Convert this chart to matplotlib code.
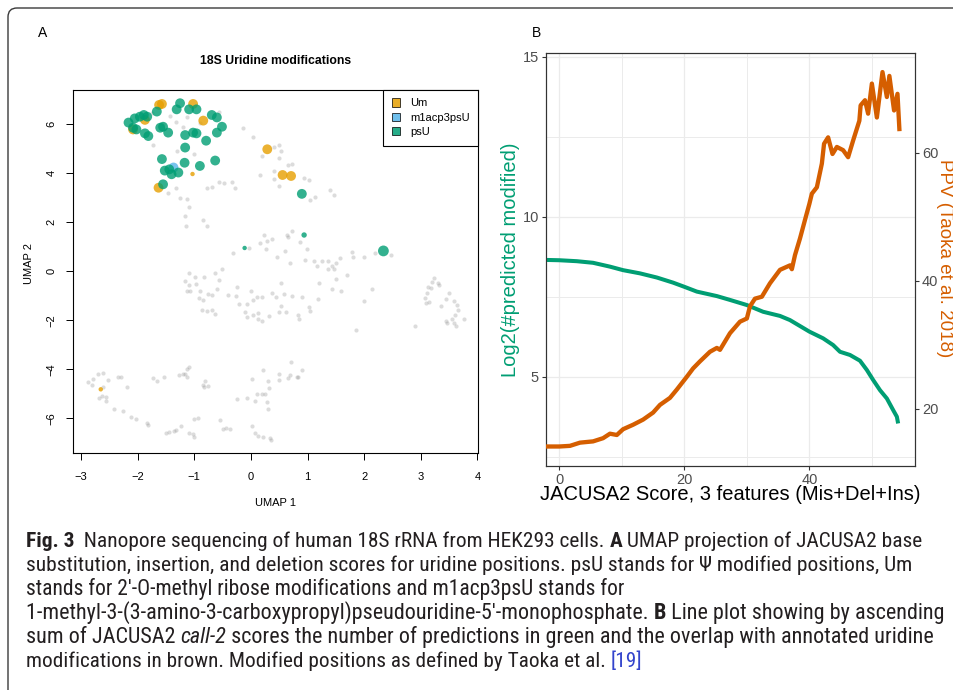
import os
import matplotlib
matplotlib.use('Agg')
import matplotlib.pyplot as plt
from matplotlib import font_manager
from matplotlib.font_manager import FontProperties
from matplotlib.patches import FancyBboxPatch, Patch
from matplotlib.transforms import IdentityTransform
from matplotlib.ticker import FixedLocator

# ---------------- data: panel A (UMAP) ----------------
bg_x = [-1.43, -1.32, -1.13, -0.57, -0.13, 0.03, 0.19, 0.41, 0.49, 0.53, 0.50, 0.66, 0.72, 0.41, 0.16,
        0.40, 0.93, 1.03, 0.50, 1.40, 1.46, 1.13, 1.05, -1.72, -1.32, -1.46, -1.25, -0.78, -0.69, -0.57,
        -0.47, -0.34, -0.28, -1.12, -1.10, -1.16, -0.85, -0.77, -1.15,
        0.23, 0.28, 0.38, 0.16, 0.63, 0.66, 0.72, 0.87, 0.99, 0.27, -0.32, -0.03, 2.19, 2.47, 1.99,
        1.78, 1.81, 1.58, 1.51, 1.43, 1.37, 1.25, 1.11, 1.16, 0.95, 0.69, 0.60, 0.46, 1.37, 1.46,
        1.69, 1.50, 1.21, 0.53, 0.37, 0.44, 0.58, 0.72, 0.90, 1.19, 1.43, 1.59, 1.99, 2.14,
        -1.09, -1.17, -1.10, -0.99, -0.96, -0.83, -0.63, -0.51, -0.56, -1.13, -1.07, -0.90, -0.76,
        -0.69, -0.59, -0.40, -0.25, -0.26, 0.00, 0.03, 0.10, 0.19, -0.07, -0.21, -0.10, 0.03, 0.12,
        -0.06, 0.13, 0.19, 0.32, 0.49, 0.62, 0.54, 0.84, 0.85, 1.03, 1.04, -0.92, -0.84, -0.86,
        -0.78, -0.69, -0.63, 1.86, 2.89,
        3.23, 3.30, 3.33, 3.20, 3.13, 3.18, 3.11, 3.08, 3.14, 3.10, 3.36, 3.45, 3.50, 3.58, 3.64,
        3.66, 3.61, 3.76, 3.55, 3.44, 3.46, 3.58, 3.63,
        -2.87, -2.79, -2.69, -2.61, -2.53, -2.80, -2.61, -2.68, -2.62, -2.56, -2.56, -2.42, -2.26,
        -2.34, -2.30, -2.19, -2.12, -2.02, -1.83, -1.82, -1.73, -1.65, -1.53, -1.49, -1.45, -1.35,
        -1.32, -1.23, -1.26, -1.20, -1.16, -1.12, -1.09, -1.12, -0.85, -0.81, -0.82, -0.75, -1.00,
        -0.94, -1.10, -1.03, -1.00, -0.54, -0.50, -0.44, -0.36, -0.25, -0.07, 0.02, 0.07, 0.10,
        0.19, 0.25, 0.22, 0.30, 0.32, 0.29, 0.30, 0.50, 0.50, 0.65, 0.69, 0.81, 0.84, 0.90, 0.70,
        0.02, 0.07, 0.13, 0.22, 0.33, 0.36,
        -1.75, -1.55, -1.20, -0.90, -1.30, -1.00]
bg_y = [6.34, 6.11, 6.28, 6.52, 5.84, 5.50, 4.71, 5.09, 5.16, 4.91, 4.61, 4.34, 4.37, 4.11, 3.93,
        3.77, 3.79, 3.73, 3.48, 3.32, 3.11, 3.05, 2.91, 5.16, 3.39, 3.21, 2.98, 3.39, 3.43, 3.66,
        3.62, 3.66, 3.39, 2.94, 2.64, 2.26, 2.09, 1.86, 1.86,
        1.46, 1.25, 1.31, 1.17, 1.48, 1.39, 1.65, 1.21, 0.91, 0.90, 0.73, 0.95, 0.73, 0.67, 0.60,
        0.80, 0.60, 0.53, 0.35, 0.23, 0.42, 0.42, 0.42, 0.22, 0.46, 0.33, 0.84, 0.57, 0.08, 0.08,
        -0.15, -0.33, -0.49, -0.49, -0.90, -1.04, -0.93, -1.01, -1.04, -1.12, -0.74, -0.80, -1.21, -0.74,
        -0.06, -0.40, -0.57, -0.25, -0.52, -0.22, -0.06, 0.08, -0.36, -0.80, -0.79, -0.82, -0.93,
        -0.95, -0.74, -0.98, -0.64, -0.99, -0.80, -1.17, -1.04, -1.04, -1.33, -1.35, -1.65, -1.78, -1.69,
        -1.85, -1.95, -2.03, -1.81, -1.65, -1.67, -1.42, -1.78, -1.93, -1.47, -1.63, -1.09, -1.19, -1.58,
        -1.61, -1.58, -1.76, -2.40, -2.23,
        -0.29, -0.46, -0.56, -0.42, -0.63, -0.70, -0.87, -1.10, -1.24, -1.28, -1.40, -1.14, -0.87, -1.20, -1.38,
        -1.58, -1.78, -1.95, -1.95, -2.02, -2.12, -2.12, -2.23,
        -4.53, -4.41, -4.18, -4.15, -4.46, -4.64, -4.74, -5.19, -5.08, -5.12, -5.28, -5.62, -5.69,
        -4.30, -4.30, -4.71, -5.97, -6.04, -6.21, -6.27, -4.34, -4.48, -4.33, -6.59, -6.56, -6.51,
        -6.48, -6.31, -4.25, -4.19, -4.21, -4.00, -3.89, -4.30, -4.64, -4.50, -4.71, -4.68, -6.04,
        -5.99, -6.61, -6.64, -6.75, -6.07, -6.45, -6.41, -6.45, -5.21, -5.19, -4.40, -5.29, -5.01,
        -5.01, -5.01, -4.03, -4.48, -4.78, -5.32, -5.62, -4.19, -4.44, -4.37, -4.23, -4.33, -4.33, -4.05, -3.69,
        -6.31, -6.61, -6.72, -6.78, -6.82, -6.89,
        6.45, 6.00, 5.90, 6.05, 4.90, 4.80]

um_x = [-1.62, -1.57, -1.02, -0.84, -1.87, -2.08, 0.29, 0.56, 0.71, -1.63, -1.03, -2.65]
um_y = [6.79, 6.83, 6.83, 6.15, 6.18, 5.79, 4.98, 3.93, 3.89, 3.41, 3.97, -4.82]
um_w = [1.0, 1.0, 1.0, 1.0, 1.0, 1.0, 1.0, 1.0, 1.0, 1.0, 0.45, 0.45]

m1_x = [-1.38]
m1_y = [4.24]
m1_w = [1.0]

psu_x = [-2.16, -2.05, -1.96, -1.89, -1.83, -2.08, -2.02, -1.87, -1.81, -1.66, -1.31, -1.25,
         -1.09, -0.96, -0.69, -0.60, -0.51, -0.60, -1.60, -1.55, -1.46, -1.16, -1.02, -0.96,
         -0.79, -1.16, -1.57, -1.17, -0.90, -0.63, -1.52, -1.44, -1.40, -1.28, -1.55, 0.90,
         -0.11, 0.94, 2.34]
psu_y = [6.07, 6.24, 6.31, 6.38, 6.31, 5.86, 5.79, 5.63, 5.52, 6.52, 6.61, 6.86,
         6.61, 6.61, 6.38, 6.28, 5.90, 5.66, 5.86, 5.90, 5.66, 5.56, 5.66, 5.63,
         5.33, 5.05, 4.58, 4.43, 4.30, 4.52, 4.11, 4.16, 3.96, 4.03, 3.55, 3.16,
         0.95, 1.48, 0.83]
psu_w = [1.0] * 36 + [0.45, 0.55, 1.1]

umap_xticks = [-3, -2, -1, 0, 1, 2, 3, 4]
umap_yticks = [-6, -4, -2, 0, 2, 4, 6]
legend_labels = ["Um", "m1acp3psU", "psU"]

# ---------------- data: panel B ----------------
score_n = [-2.2, 0, 2.8, 5.4, 8.1, 10.2, 12.9, 15.6, 18.2, 20.0, 22.0, 25.2, 27.3, 30.0, 32.6,
           35.3, 36.9, 40.0, 42.2, 43.8, 44.9, 46.5, 48.1, 49.2, 50.2, 51.3, 52.4, 53.4, 54.0, 54.2]
log2_pred = [8.65, 8.64, 8.61, 8.56, 8.44, 8.33, 8.23, 8.10, 7.94, 7.81, 7.66, 7.52, 7.40, 7.24, 7.03,
             6.90, 6.77, 6.41, 6.20, 5.99, 5.78, 5.68, 5.50, 5.21, 4.90, 4.58, 4.32, 3.96, 3.75, 3.54]

score_p = [-2.2, 0, 1.7, 3.3, 5.4, 7.0, 8.1, 9.2, 10.2, 11.8, 13.4, 15.0, 16.1, 17.7, 18.8,
           20.4, 21.4, 22.5, 24.1, 25.2, 25.7, 27.3, 28.9, 30.0, 30.5, 31.3, 32.4, 33.7, 35.3,
           36.9, 37.2, 37.7, 38.5, 39.3, 40.0, 40.4, 41.2, 42.0, 42.35, 43.0, 43.7, 44.4, 45.4, 46.2,
           47.0, 48.0, 48.2, 48.9, 49.4, 50.0, 50.8, 51.7, 52.4, 52.8, 53.55, 54.1, 54.4]
ppv = [14.1, 14.1, 14.2, 14.7, 14.9, 15.4, 16.1, 15.9, 16.8, 17.5, 18.3, 19.4, 20.6, 21.7, 23.0,
       25.0, 26.3, 27.4, 28.9, 29.5, 29.2, 31.8, 33.6, 34.1, 36.0, 37.2, 37.5, 39.6, 41.7,
       42.4, 41.8, 44.0, 46.6, 49.5, 52.0, 53.6, 54.6, 58.3, 61.4, 62.4, 59.8, 60.9, 60.4, 59.3,
       61.9, 65.0, 67.4, 68.2, 66.1, 70.8, 65.5, 72.6, 68.7, 72.0, 66.6, 69.2, 63.7]

b_xticks = [0, 20, 40]
b_yticks_left = [5, 10, 15]
b_yticks_right = [20, 40, 60]

caption_lines = [
    [("Fig. 3", "bold"), ("  Nanopore sequencing of human 18S rRNA from HEK293 cells. ", "normal"),
     ("A", "bold"), (" UMAP projection of JACUSA2 base", "normal")],
    [("substitution, insertion, and deletion scores for uridine positions. psU stands for \u03a8 modified positions, Um", "normal")],
    [("stands for 2\u2032-O-methyl ribose modifications and m1acp3psU stands for", "normal")],
    [("1-methyl-3-(3-amino-3-carboxypropyl)pseudouridine-5\u2032-monophosphate. ", "normal"),
     ("B", "bold"), (" Line plot showing by ascending", "normal")],
    [("sum of JACUSA2 ", "normal"), ("call-2", "italic"),
     (" scores the number of predictions in green and the overlap with annotated uridine", "normal")],
    [("modifications in brown. Modified positions as defined by Taoka et al. ", "normal"), ("[19]", "link")],
]

# ---------------- figure ----------------
W, H = 954, 690
plt.rcParams['font.family'] = ['Liberation Sans', 'DejaVu Sans']
fig = plt.figure(figsize=(W / 100, H / 100), dpi=100)
fig.patch.set_facecolor('white')

def fx(px):
    return px / W

def fy(py):
    return 1 - py / H

# frame
frame = FancyBboxPatch((8, -30), 1000, H - 8 + 30, boxstyle='round,pad=0,rounding_size=9',
                       transform=IdentityTransform(), fill=False, ec='#3a3a3a', lw=1.0)
fig.add_artist(frame)

# ---- Panel A ----
axA = fig.add_axes([fx(73), fy(453), fx(478) - fx(73), fy(90) - fy(453)])
ORANGE = '#E69F00'
BLUE = '#56B4E9'
GREEN = '#009E73'
axA.scatter(bg_x, bg_y, s=9, c='#8c8c8c', alpha=0.3, linewidths=0, zorder=1)
base_s = 50
axA.scatter(um_x, um_y, s=[base_s * w ** 2 for w in um_w], c=ORANGE, alpha=0.8, linewidths=0, zorder=2)
axA.scatter(m1_x, m1_y, s=[base_s * w ** 2 for w in m1_w], c=BLUE, alpha=0.8, linewidths=0, zorder=2)
axA.scatter(psu_x, psu_y, s=[base_s * w ** 2 for w in psu_w], c=GREEN, alpha=0.8, linewidths=0, zorder=3)
axA.set_xlim(-3.14, 4.01)
axA.set_ylim(-7.42, 7.40)
axA.set_xticks(umap_xticks)
axA.set_yticks(umap_yticks)
axA.set_xticklabels([str(t).replace('-', '\u2212') for t in umap_xticks])
axA.set_yticklabels([str(t).replace('-', '\u2212') for t in umap_yticks], rotation=90, va='center')
axA.tick_params(direction='out', length=5, width=0.7, labelsize=8, pad=9, colors='black')
axA.tick_params(axis='y', pad=7)
for sp in axA.spines.values():
    sp.set_linewidth(0.8)
    sp.set_color('black')
handles = [Patch(facecolor=c, edgecolor='black', linewidth=0.6, alpha=0.85) for c in (ORANGE, BLUE, GREEN)]
leg = axA.legend(handles, legend_labels, loc='upper right', borderaxespad=0, fancybox=False,
                 edgecolor='black', fontsize=8, handlelength=0.75, handleheight=0.75,
                 handletextpad=0.9, borderpad=0.75, labelspacing=0.4, framealpha=1)
leg.get_frame().set_linewidth(0.8)
fig.text(fx(276), fy(61), "18S Uridine modifications", fontsize=8.8, fontweight='bold',
         ha='center', va='center')
fig.text(fx(276), fy(503), "UMAP 1", fontsize=8, ha='center', va='center')
fig.text(fx(29), fy(263), "UMAP 2", fontsize=8, ha='center', va='center', rotation=90)
fig.text(fx(43), fy(33), "A", fontsize=10, ha='center', va='center')
fig.text(fx(537), fy(33), "B", fontsize=10, ha='center', va='center')

# ---- Panel B ----
axB = fig.add_axes([fx(545.7), fy(465.7), fx(915) - fx(545.7), fy(52.7) - fy(465.7)])
axB2 = axB.twinx()
ylimL = (2.22, 15.125)
axB.set_xlim(-2.18, 56.9)
axB.set_ylim(*ylimL)
axB2.set_ylim(ylimL[0] * 5, ylimL[1] * 5)
axB.set_xticks(b_xticks)
axB.set_yticks(b_yticks_left)
axB2.set_yticks(b_yticks_right)
axB.xaxis.set_minor_locator(FixedLocator([10, 30, 50]))
axB.yaxis.set_minor_locator(FixedLocator([2.5, 7.5, 12.5]))
axB.grid(which='major', color='#EBEBEB', lw=0.9)
axB.grid(which='minor', color='#EBEBEB', lw=0.7)
axB.set_axisbelow(True)
axB.plot(score_n, log2_pred, color=GREEN, lw=2.9, solid_capstyle='butt', zorder=3)
axB2.plot(score_p, ppv, color='#D55E00', lw=3.1, solid_joinstyle='round', zorder=3)
for a in (axB, axB2):
    a.tick_params(which='major', direction='out', length=3, width=0.8, color='#333333',
                  labelcolor='#4D4D4D', labelsize=10.5, pad=2)
    a.tick_params(which='minor', length=0)
    for sp in a.spines.values():
        sp.set_color('#333333')
        sp.set_linewidth(0.8)
axB2.grid(False)
fig.text(fx(730), fy(495), "JACUSA2 Score, 3 features (Mis+Del+Ins)", fontsize=14.5,
         ha='center', va='center', color='black')
fig.text(fx(510.7), fy(260), "Log2(#predicted modified)", fontsize=14.5, ha='center', va='center',
         rotation=90, color='#009E73')
fig.text(fx(945), fy(258), "PPV (Taoka et al. 2018)", fontsize=13.5, ha='center', va='center',
         rotation=270, color='#D55E00')

# ---- Caption ----
def est_weight(base):
    b = base.lower()
    for key, w in (('extrabold', 800), ('ultrabold', 800), ('semibold', 600), ('demibold', 600),
                   ('black', 900), ('heavy', 900), ('bold', 700), ('extralight', 200),
                   ('ultralight', 200), ('light', 300), ('thin', 100), ('medium', 500)):
        if key in b:
            return w
    return 400

def est_style(base):
    b = base.lower()
    return 'italic' if ('italic' in b or 'oblique' in b) else 'normal'

entries = font_manager.fontManager.ttflist
prefs = ['Noto Sans Condensed', 'Open Sans Condensed', 'Roboto Condensed', 'Liberation Sans Narrow',
         'DejaVu Sans Condensed']
cond_names = sorted({f.name for f in entries if ('Condensed' in f.name or 'Narrow' in f.name)})
ordered = [p for p in prefs if p in cond_names] + [n for n in cond_names if n not in prefs]

def pick(name, want_w, want_style):
    best, bscore = None, None
    for f in entries:
        if f.name != name:
            continue
        base = os.path.basename(f.fname)
        sc = abs(est_weight(base) - want_w) + (0 if est_style(base) == want_style else 1000)
        if bscore is None or sc < bscore:
            best, bscore = f.fname, sc
    return best, bscore

cap_files = None
for name in ordered:
    reg, sc = pick(name, 400, 'normal')
    if reg is not None and sc <= 100:
        bold, _ = pick(name, 700, 'normal')
        ital, _ = pick(name, 400, 'italic')
        cap_files = {'normal': reg, 'bold': bold, 'italic': ital, 'link': reg}
        break

renderer = fig.canvas.get_renderer()

def style_kw(kind, size):
    if cap_files is not None:
        fp = FontProperties(fname=cap_files[kind], size=size)
        kw = dict(fontproperties=fp, color='#231F20')
    else:
        kw = dict(fontsize=size, family=['Liberation Sans', 'DejaVu Sans'], color='#231F20')
        if kind == 'bold':
            kw['fontweight'] = 'bold'
        elif kind == 'italic':
            kw['fontstyle'] = 'italic'
    if kind == 'link':
        kw['color'] = '#3344CC'
    return kw

def seg_width(s, kw):
    t1 = fig.text(0, 0, '|' + s + '|', **kw)
    w1 = t1.get_window_extent(renderer).width
    t1.remove()
    t2 = fig.text(0, 0, '||', **kw)
    w2 = t2.get_window_extent(renderer).width
    t2.remove()
    return w1 - w2

# right ends of the caption lines in the reference (pixels), used to fit the text size per line
line_ends = [923, 912, 625, 946, 933, 641]
cap_left = 26.0
ref_size = 12.0
for i, line in enumerate(caption_lines):
    w_ref = sum(seg_width(s, style_kw(k, ref_size)) for s, k in line)
    size = ref_size * (line_ends[i] - cap_left) / w_ref
    x = cap_left
    base_y = 547 + 24 * i
    for s, k in line:
        kw = style_kw(k, size)
        fig.text(fx(x), fy(base_y), s, ha='left', va='baseline', **kw)
        x += seg_width(s, kw)

fig.savefig('out.png', dpi=100, facecolor='white')
